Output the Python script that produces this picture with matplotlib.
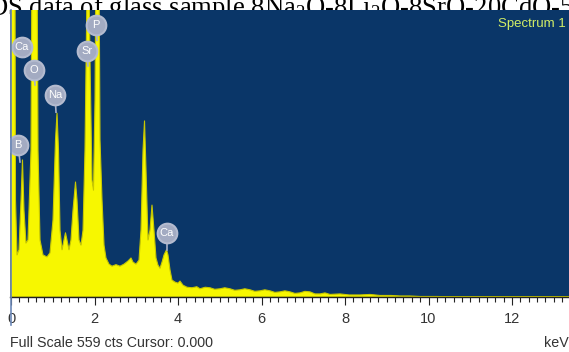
import matplotlib
matplotlib.use("Agg")
import matplotlib.pyplot as plt
import numpy as np

# ---- data ----
energy_kev = [0.00, 0.024, 0.072, 0.108, 0.144, 0.192, 0.240, 0.275, 0.311, 0.359, 0.407,
              0.479, 0.527, 0.599, 0.647, 0.695, 0.766, 0.862, 0.934, 1.006, 1.066, 1.102,
              1.138, 1.174, 1.222, 1.269, 1.305, 1.341, 1.389, 1.437, 1.485, 1.545, 1.581,
              1.629, 1.677, 1.725, 1.772, 1.808, 1.844, 1.892, 1.940, 1.976, 2.012, 2.048,
              2.096, 2.132, 2.180, 2.228, 2.275, 2.347, 2.419, 2.515, 2.611, 2.707, 2.802,
              2.874, 2.922, 2.994, 3.066, 3.114, 3.162, 3.198, 3.234, 3.281, 3.329, 3.377,
              3.425, 3.473, 3.521, 3.569, 3.617, 3.665, 3.725, 3.760, 3.808, 3.856, 3.928,
              4.000, 4.048, 4.120, 4.216, 4.335, 4.45, 4.527, 4.65, 4.766, 4.88, 5.006,
              5.12, 5.246, 5.36, 5.485, 5.60, 5.725, 5.84, 5.964, 6.08, 6.204, 6.32, 6.443,
              6.56, 6.683, 6.80, 6.922, 7.04, 7.162, 7.28, 7.401, 7.52, 7.64, 7.880, 8.10,
              8.359, 8.60, 8.838, 9.10, 9.317, 9.55, 9.796, 10.20, 10.75, 13.4]
counts = [0, 1500, 1500, 189, 82, 92, 189, 267, 169, 105, 111,
          286, 1100, 1100, 286, 111, 82, 78, 86, 150, 306, 358,
          286, 130, 92, 111, 125, 111, 92, 111, 169, 224, 189,
          111, 101, 130, 286, 520, 780, 462, 228, 208, 384, 820,
          820, 306, 189, 101, 76, 64, 60, 63, 60, 64, 70,
          76, 68, 64, 72, 130, 286, 343, 247, 111, 130, 179,
          130, 76, 62, 56, 68, 82, 92, 82, 53, 33, 29,
          27, 31, 23, 19, 18, 20, 16, 19, 18, 15, 16,
          18, 16, 13, 14, 16, 14, 11, 12, 14, 12, 9, 10,
          12, 10, 7, 8, 11, 10, 6, 6, 8, 5, 6, 4,
          4, 5, 3, 3, 2, 2, 1, 1, 0, 0]

element_names = ["Ca", "O", "Na", "B", "Sr", "P", "Ca"]
label_kev = [0.263, 0.551, 1.054, 0.168, 1.820, 2.036, 3.737]
label_cts = [487, 442, 393, 296, 479, 530, 125]
pin_kev = [0.335, 0.575, 1.078, 0.216, 1.844, 2.060, 3.737]
pin_cts = [467, 413, 360, 263, 450, 500, 92]

tick_values = [0, 2, 4, 6, 8, 10, 12]
tick_labels = ["0", "2", "4", "6", "8", "10", "12"]
full_scale = 559

# ---- figure ----
plt.rcParams['mathtext.fontset'] = 'custom'
plt.rcParams['mathtext.rm'] = 'Liberation Serif'
plt.rcParams['mathtext.it'] = 'Liberation Serif:italic'

W, H = 569, 352
fig = plt.figure(figsize=(W / 100, H / 100), dpi=100)
fig.patch.set_facecolor("white")

ax = fig.add_axes([10 / W, (H - 297) / H, 559 / W, 287 / H])
ax.set_zorder(2)
bg = "#0a3668"
ax.set_facecolor(bg)
ax.set_xlim(-0.024, 13.365)
ax.set_ylim(0, full_scale)

ax.fill_between(energy_kev, counts, 0, color="#f7f700", linewidth=0.8,
                edgecolor="#c8c800", zorder=2)

# element markers
for name, lx, ly, px, py in zip(element_names, label_kev, label_cts, pin_kev, pin_cts):
    ax.plot([lx, px], [ly, py], color="#a8b0c8", lw=1.2, zorder=3)
    ax.scatter([lx], [ly], s=200, color="#a3abc2", edgecolors="#b4bbcf",
               linewidths=1.5, zorder=4)
    ax.text(lx, ly, name, color="white", fontsize=8, ha="center", va="center",
            family="Liberation Sans", zorder=5)

ax.text(0.994, 0.972, "Spectrum 1", transform=ax.transAxes, ha="right", va="top",
        color="#d2ee66", fontsize=9.5, family="Liberation Sans", zorder=5)

for s in ["top", "right", "left"]:
    ax.spines[s].set_visible(False)
ax.spines["bottom"].set_color("#222222")
ax.spines["bottom"].set_linewidth(1.0)
ax.set_yticks([])
ax.set_xticks(tick_values)
ax.set_xticklabels(tick_labels, family="Liberation Sans", fontsize=10.5, color="#333333")
ax.set_xticks(np.arange(0, 13.4, 0.2), minor=True)
ax.tick_params(axis="x", which="major", direction="out", length=6, width=0.8,
               color="#222222", pad=5)
ax.tick_params(axis="x", which="minor", direction="out", length=3.5, width=0.8,
               color="#222222")

# caption text partially hidden behind the plot
fig.text(-28 / W, 1 - 15 / H,
         "EDS data of glass sample 8Na$_2$O-8Li$_2$O-8SrO-20CdO-5",
         family="Liberation Serif", fontsize=19.2, color="black",
         ha="left", va="baseline", zorder=1)

# cursor line
fig.add_artist(plt.Line2D([10.5 / W, 10.5 / W], [1 - 325 / H, 1 - 10 / H],
                          color="#6b88b8", lw=1.2, zorder=3))

fig.text(10 / W, 1 - 343 / H, "Full Scale %d cts Cursor: 0.000" % full_scale,
         family="Liberation Sans", fontsize=10.3, color="#333333",
         ha="left", va="center")
fig.text(569 / W, 1 - 343 / H, "keV", family="Liberation Sans", fontsize=10.3,
         color="#333333", ha="right", va="center")

fig.savefig("out.png", dpi=100)
